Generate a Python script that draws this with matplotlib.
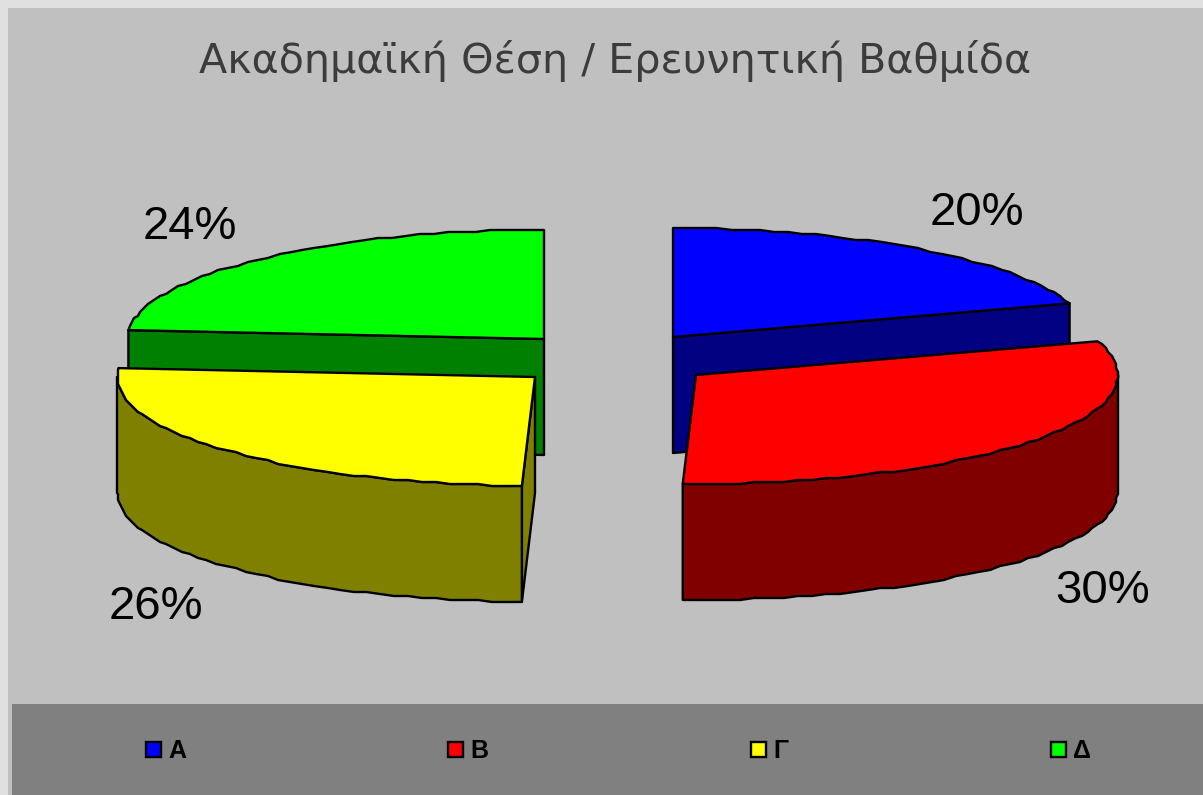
import numpy as np
import matplotlib.pyplot as plt
from matplotlib.patches import Polygon, Rectangle

title = 'Ακαδημαϊκή Θέση / Ερευνητική Βαθμίδα'
categories = ['Α', 'Β', 'Γ', 'Δ']
values = [20.0, 30.5, 25.8, 23.7]

top_colors = ['#0000ff', '#ff0000', '#ffff00', '#00ff00']
side_colors = ['#000080', '#800000', '#808000', '#008000']

# apex of every exploded slice, in pixels
apex_x = [673, 696, 535, 544]
apex_y = [337, 375, 377, 339]
radius_x = [417, 422, 418, 417]
label_x = [977, 1103, 156, 190]
label_y = [213, 591, 607, 227]
legend_x = [146, 448, 751, 1051]

ry = 109
depth = 116


def rim(i, a0, a1):
    # points on the ellipse, angles clockwise from the top, snapped to a grid
    # so the outline gets the same rough look
    cx, cy, rx = apex_x[i], apex_y[i], radius_x[i]
    ang = np.radians(np.arange(a0, a1, 2.0).tolist() + [a1])
    x = cx + rx * np.sin(ang)
    y = cy - ry * np.cos(ang)
    sx = np.round(x / 2) * 2
    sy = np.round(y / 2) * 2
    sx[0], sx[-1] = x[0], x[-1]
    sy[0], sy[-1] = y[0], y[-1]
    return np.column_stack([sx, sy])


def poly(ax, pts, color):
    ax.add_patch(Polygon(pts, closed=True, facecolor=color, edgecolor='black',
                         linewidth=1.7, joinstyle='round'))


def draw_slice(ax, i, a0, a1):
    center = np.array([[apex_x[i], apex_y[i]]])
    down = np.array([[0, depth]])

    # cut faces that look at the viewer
    faces = []
    if np.sin(np.radians(a0)) < -1e-6:
        faces.append(a0)
    if np.sin(np.radians(a1)) > 1e-6:
        faces.append(a1)
    for a in faces:
        p = rim(i, a, a + 0.01)[:1]
        poly(ax, np.vstack([center, p, p + down, center + down]), side_colors[i])

    # outer wall, only the front half of the ellipse shows
    lo, hi = max(a0, 90), min(a1, 270)
    if lo < hi:
        edge = rim(i, lo, hi)
        poly(ax, np.vstack([edge, (edge + down)[::-1]]), side_colors[i])

    poly(ax, np.vstack([center, rim(i, a0, a1)]), top_colors[i])


fig = plt.figure(figsize=(12.03, 7.95), dpi=100, facecolor='#e0e0e0')
ax = fig.add_axes([0, 0, 1, 1])
ax.set_xlim(0, 1203)
ax.set_ylim(795, 0)
ax.axis('off')

ax.add_patch(Rectangle((8, 8), 1195, 787, facecolor='#c0c0c0', edgecolor='none'))
ax.add_patch(Rectangle((12, 704), 1191, 91, facecolor='#808080', edgecolor='none'))

ax.text(615, 61, title, family='DejaVu Sans', fontsize=29.7, color='#3c3c3c',
        ha='center', va='center')

angles = np.cumsum([0] + values) * 3.6

# back slices first, then the two in front
for i in (3, 0, 2, 1):
    draw_slice(ax, i, angles[i], angles[i + 1])

for i, v in enumerate(values):
    ax.text(label_x[i], label_y[i], f'{round(v)}%', family='Liberation Sans',
            fontsize=34, color='black', ha='center', va='center')

for i, c in enumerate(categories):
    ax.add_patch(Rectangle((legend_x[i], 742), 15, 15, facecolor=top_colors[i],
                           edgecolor='black', linewidth=1.7))
    ax.text(legend_x[i] + 22, 751, c, family='Liberation Sans', fontsize=18,
            fontweight='bold', color='black', ha='left', va='center')

fig.savefig('out.png', dpi=100, facecolor=fig.get_facecolor())
